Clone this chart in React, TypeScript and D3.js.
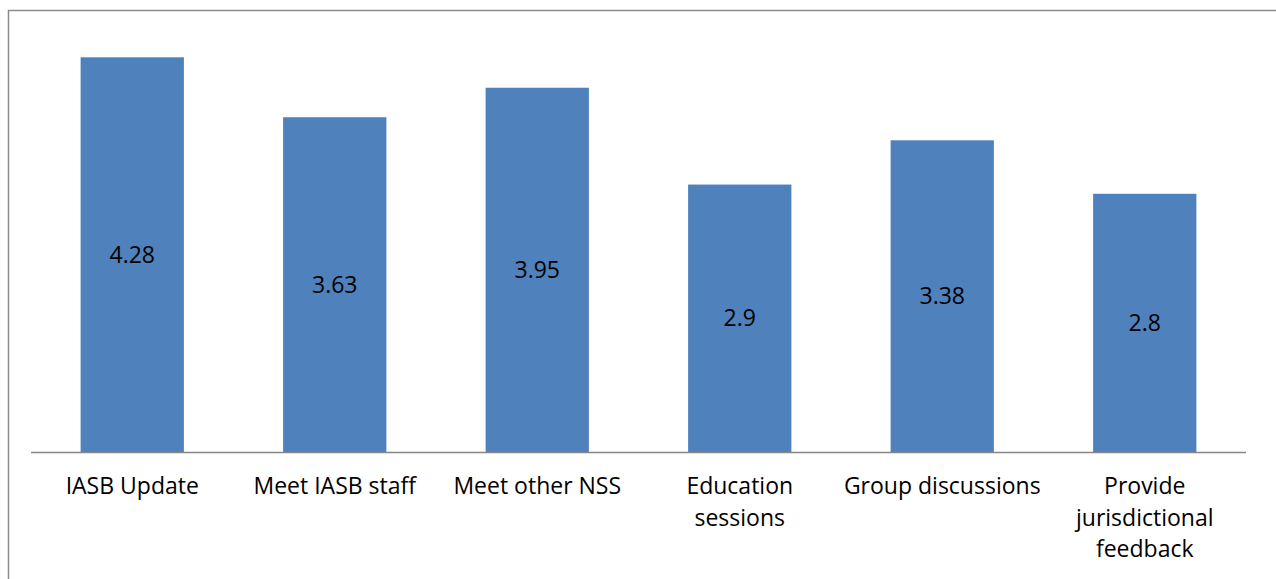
import { useEffect, useRef } from 'react';
import * as d3 from 'd3';

const categories = [
  'IASB Update',
  'Meet IASB staff',
  'Meet other NSS',
  'Education sessions',
  'Group discussions',
  'Provide jurisdictional feedback',
];
// wrapped lines for the axis labels, as in the picture
const categoryLines = [
  ['IASB Update'],
  ['Meet IASB staff'],
  ['Meet other NSS'],
  ['Education', 'sessions'],
  ['Group discussions'],
  ['Provide', 'jurisdictional', 'feedback'],
];
const values = [4.28, 3.63, 3.95, 2.9, 3.38, 2.8];

const W = 1276;
const H = 579;
const PLOT = { left: 31, right: 1246, top: 37, bottom: 452 };
const FONT = '"Open Sans", "Liberation Sans", sans-serif';

export default function App() {
  const svgRef = useRef<SVGSVGElement>(null);

  useEffect(() => {
    document.body.style.margin = '0';
    if (!svgRef.current) return;
    const svg = d3.select(svgRef.current);
    svg.selectAll('*').remove();

    // chart frame (only top and left edges show inside the window)
    svg
      .append('rect')
      .attr('x', 8.5)
      .attr('y', 10.5)
      .attr('width', W + 20)
      .attr('height', H + 20)
      .attr('fill', '#fff')
      .attr('stroke', '#8c8c8c')
      .attr('stroke-width', 1.5);

    const x = d3
      .scaleBand<string>()
      .domain(categories)
      .range([PLOT.left, PLOT.right])
      .paddingInner(0.49)
      .paddingOuter(0.245);
    const y = d3.scaleLinear().domain([0, 4.5]).range([PLOT.bottom, PLOT.top]);

    const g = svg.append('g');

    g.selectAll('rect.bar')
      .data(values)
      .join('rect')
      .attr('class', 'bar')
      .attr('x', (_, i) => x(categories[i])!)
      .attr('y', d => y(d))
      .attr('width', x.bandwidth())
      .attr('height', d => y(0) - y(d))
      .attr('fill', '#4f81bd');

    // data labels in the middle of each bar
    g.selectAll('text.val')
      .data(values)
      .join('text')
      .attr('class', 'val')
      .attr('x', (_, i) => x(categories[i])! + x.bandwidth() / 2)
      .attr('y', d => (y(d) + y(0)) / 2 + 8)
      .attr('text-anchor', 'middle')
      .attr('font-family', FONT)
      .attr('font-size', 23)
      .attr('fill', '#000')
      .text(d => String(d));

    // baseline
    g.append('line')
      .attr('x1', PLOT.left)
      .attr('x2', PLOT.right)
      .attr('y1', PLOT.bottom + 0.5)
      .attr('y2', PLOT.bottom + 0.5)
      .attr('stroke', '#868686')
      .attr('stroke-width', 1.5);

    // category labels
    const labels = g
      .selectAll('text.cat')
      .data(categoryLines)
      .join('text')
      .attr('class', 'cat')
      .attr('text-anchor', 'middle')
      .attr('font-family', FONT)
      .attr('font-size', 23)
      .attr('fill', '#000');
    labels.each(function (lines, i) {
      const cx = x(categories[i])! + x.bandwidth() / 2;
      d3.select(this)
        .selectAll('tspan')
        .data(lines)
        .join('tspan')
        .attr('x', cx)
        .attr('y', (_, j) => 494 + j * 31.5)
        .text(l => l);
    });
  }, []);

  return <svg ref={svgRef} width={W} height={H} style={{ display: 'block' }} />;
}
